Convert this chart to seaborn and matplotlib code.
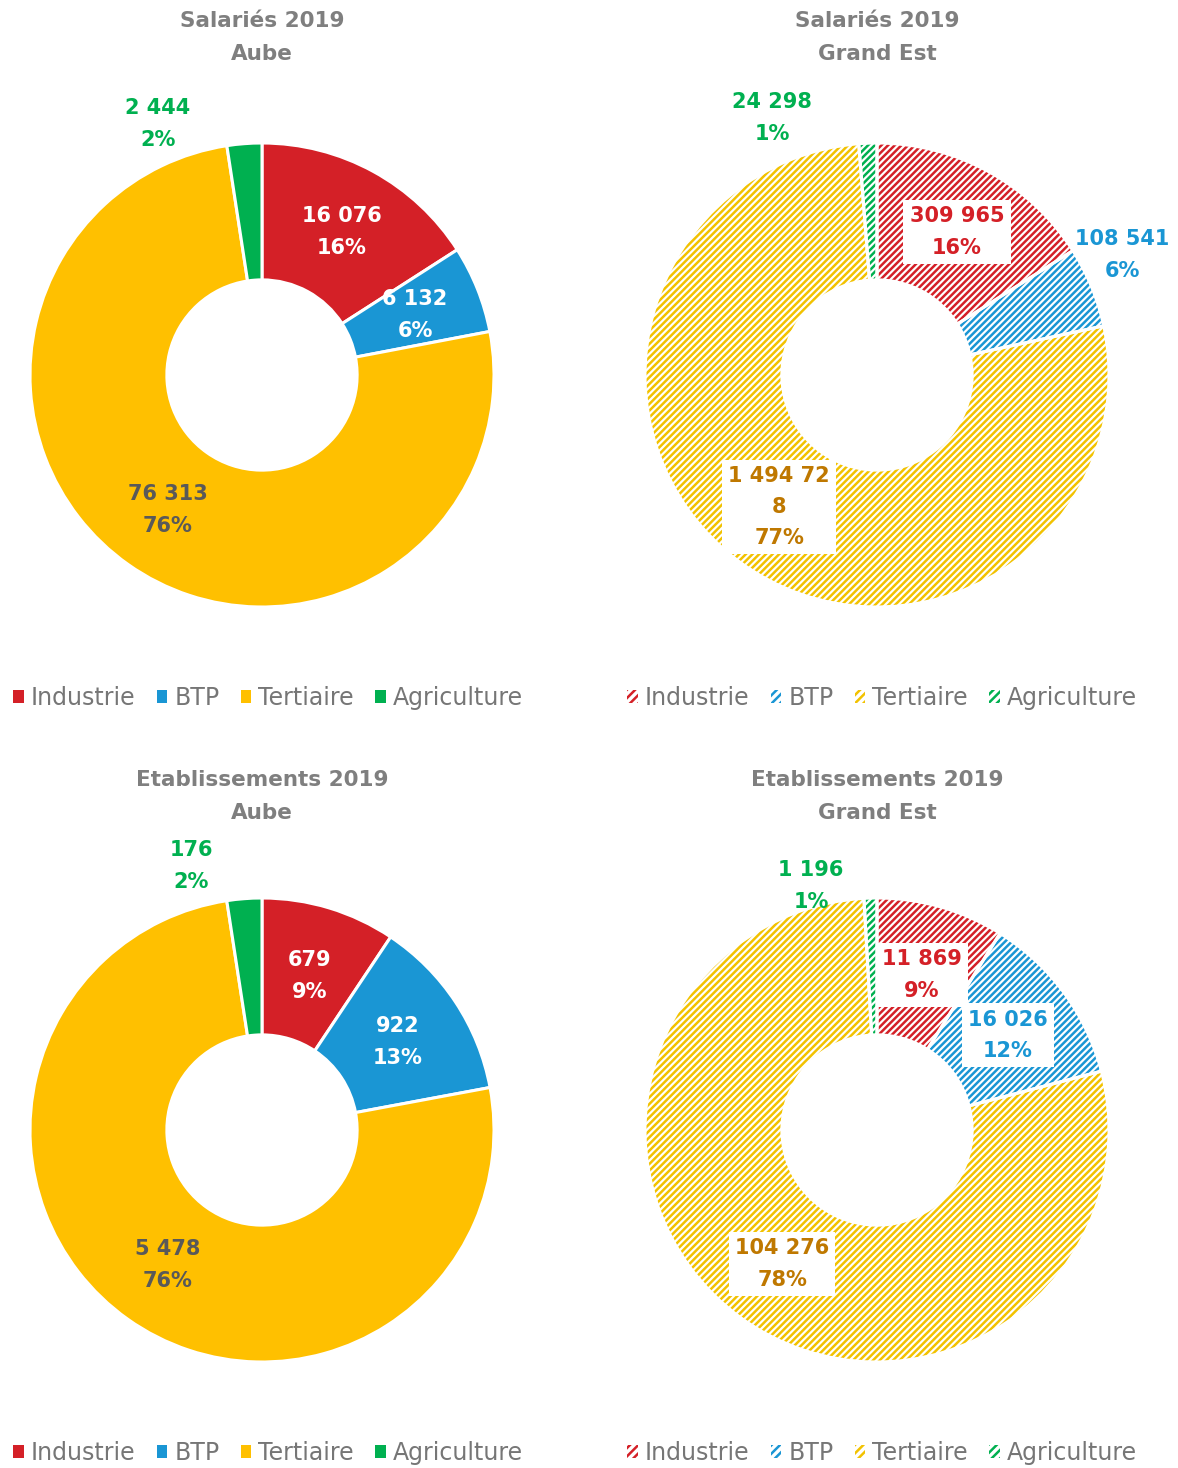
import matplotlib
matplotlib.use("Agg")
import matplotlib.pyplot as plt
import seaborn as sns
import pandas as pd
from matplotlib.patches import Patch

# ---------------- data ----------------
categories = ["Industrie", "BTP", "Tertiaire", "Agriculture"]
sal_aube = [16076, 6132, 76313, 2444]
sal_ge = [309965, 108541, 1494728, 24298]
etab_aube = [679, 922, 5478, 176]
etab_ge = [11869, 16026, 104276, 1196]

sal_aube_labels = ["16 076\n16%", "6 132\n6%", "76 313\n76%", "2 444\n2%"]
sal_ge_labels = ["309 965\n16%", "108 541\n6%", "1 494 72\n8\n77%", "24 298\n1%"]
etab_aube_labels = ["679\n9%", "922\n13%", "5 478\n76%", "176\n2%"]
etab_ge_labels = ["11 869\n9%", "16 026\n12%", "104 276\n78%", "1 196\n1%"]

titles = ["Salariés 2019\nAube", "Salariés 2019\nGrand Est",
          "Etablissements 2019\nAube", "Etablissements 2019\nGrand Est"]

# ---------------- style ----------------
sns.set_theme(style="white")
plt.rcParams["font.family"] = ["DejaVu Sans"]
plt.rcParams["hatch.linewidth"] = 1.8

palette = sns.color_palette(["#D42027", "#1A96D4", "#FFC000", "#00B050"])
hatch_palette = sns.color_palette(["#D42027", "#1A96D4", "#F2C200", "#00B050"])
label_solid = ["white", "white", "#595959", "#00B050"]
label_hatch = ["#D42027", "#1A96D4", "#BF7800", "#00B050"]
HATCH = "/////"

W, H = 1178, 1468
fig = plt.figure(figsize=(W / 100, H / 100), dpi=100)

R = 232
centers = [(262, 375), (877, 375), (262, 1130), (877, 1130)]

# label positions (relative to radius) -- layout only
label_pos = [
    [(0.345, 0.616), (0.66, 0.259), (-0.405, -0.582), (-0.448, 1.082)],
    [(0.345, 0.616), (1.056, 0.517), (-0.422, -0.569), (-0.453, 1.108)],
    [(0.207, 0.664), (0.586, 0.379), (-0.405, -0.582), (-0.306, 1.138)],
    [(0.194, 0.668), (0.565, 0.409), (-0.409, -0.578), (-0.284, 1.052)],
]

datasets = [sal_aube, sal_ge, etab_aube, etab_ge]
labelsets = [sal_aube_labels, sal_ge_labels, etab_aube_labels, etab_ge_labels]
hatched = [False, True, False, True]
bbox_on = [
    [False, False, False, False],
    [True, False, True, False],
    [False, False, False, False],
    [True, True, True, False],
]

for i, (cx, cy) in enumerate(centers):
    ax = fig.add_axes([(cx - R) / W, 1 - (cy + R) / H, 2 * R / W, 2 * R / H])
    df = pd.DataFrame({"cat": categories, "val": datasets[i]})
    if hatched[i]:
        wedges, _ = ax.pie(df["val"], startangle=90, counterclock=False, radius=1,
                           colors=["white"] * 4,
                           wedgeprops=dict(width=0.59, linewidth=0))
        for w, c in zip(wedges, hatch_palette):
            w.set_edgecolor(c)
            w.set_hatch(HATCH)
        ax.pie(df["val"], startangle=90, counterclock=False, radius=1,
               wedgeprops=dict(width=0.59, linewidth=2.2, edgecolor="white", fill=False))
    else:
        ax.pie(df["val"], startangle=90, counterclock=False, radius=1, colors=palette,
               wedgeprops=dict(width=0.59, linewidth=2.2, edgecolor="white"))
    ax.set_xlim(-1, 1)
    ax.set_ylim(-1, 1)
    ax.set_aspect("equal")
    ax.axis("off")

    for j, txt in enumerate(labelsets[i]):
        x, y = label_pos[i][j]
        col = label_hatch[j] if hatched[i] else label_solid[j]
        kw = {}
        if bbox_on[i][j]:
            kw["bbox"] = dict(boxstyle="square,pad=0.3", facecolor="white", edgecolor="none")
        ax.text(x, y, txt, ha="center", va="center", fontsize=15, fontweight="bold",
                color=col, linespacing=1.7, zorder=5, clip_on=False, **kw)

    ty = 20 if cy < 700 else 779
    fig.text(cx / W, 1 - (ty - 9) / H, titles[i], ha="center", va="top",
             fontsize=15.5, fontweight="bold", color="#7F7F7F", linespacing=1.8)

# legends
for i, (cx, cy) in enumerate(centers):
    if hatched[i]:
        handles = [Patch(facecolor="white", edgecolor=c, hatch="////", linewidth=0, label=l)
                   for c, l in zip(hatch_palette, categories)]
    else:
        handles = [Patch(facecolor=c, edgecolor="none", label=l)
                   for c, l in zip(palette, categories)]
    ly = 698 if cy < 700 else 1453
    lx = 268 if cx < 600 else 882
    leg = fig.legend(handles=handles, loc="center", bbox_to_anchor=(lx / W, 1 - ly / H),
                     ncol=4, frameon=False, fontsize=17, handlelength=0.45,
                     handleheight=0.45, handletextpad=0.3, columnspacing=0.9,
                     borderaxespad=0, borderpad=0)
    for t in leg.get_texts():
        t.set_color("#767676")

fig.savefig("out.png", dpi=100)
